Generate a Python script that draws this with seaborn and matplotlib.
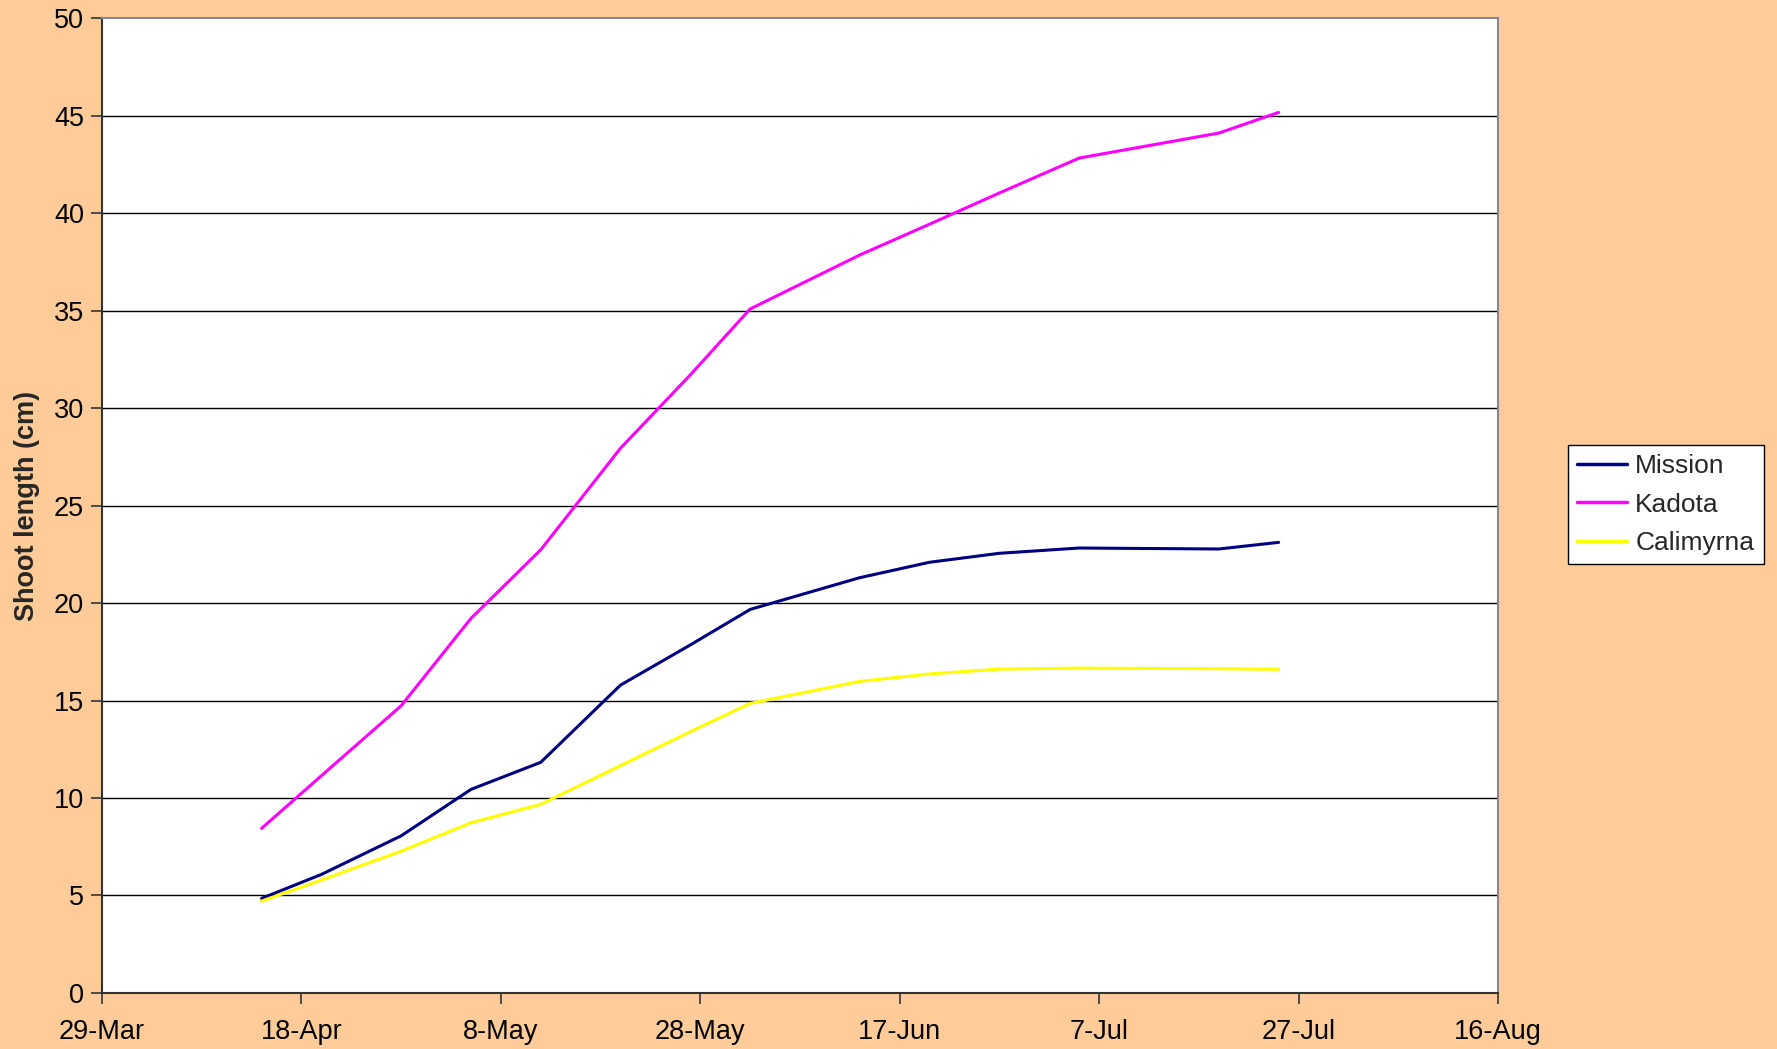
import matplotlib
matplotlib.use("Agg")
import matplotlib.pyplot as plt
import seaborn as sns
import pandas as pd
from matplotlib.lines import Line2D

# ---- data ----
dates = ["2005-04-14", "2005-04-20", "2005-04-28", "2005-05-05", "2005-05-12",
         "2005-05-20", "2005-05-27", "2005-06-02", "2005-06-13", "2005-06-20",
         "2005-06-27", "2005-07-05", "2005-07-19", "2005-07-25"]
mission = [4.85, 6.08, 8.06, 10.44, 11.83, 15.79, 17.85, 19.67, 21.30, 22.09, 22.55, 22.82, 22.77, 23.11]
kadota = [8.44, 11.14, 14.73, 19.21, 22.73, 27.94, 31.7, 35.08, 37.85, 39.43, 41.03, 42.82, 44.10, 45.16]
calimyrna = [4.71, 5.79, 7.27, 8.73, 9.67, 11.66, 13.40, 14.85, 15.98, 16.36, 16.61, 16.66, 16.63, 16.60]
series_names = ["Mission", "Kadota", "Calimyrna"]
colors = {"Mission": "#000080", "Kadota": "#FF00FF", "Calimyrna": "#FFFF00"}
x_tick_dates = ["2005-03-29", "2005-04-18", "2005-05-08", "2005-05-28",
                "2005-06-17", "2005-07-07", "2005-07-27", "2005-08-16"]
y_ticks = [0, 5, 10, 15, 20, 25, 30, 35, 40, 45, 50]

df = pd.DataFrame({
    "date": pd.to_datetime(dates * 3),
    "value": mission + kadota + calimyrna,
    "variety": sum([[n] * len(dates) for n in series_names], []),
})

sns.set_theme(style="white")
plt.rcParams["font.family"] = ["Liberation Sans", "DejaVu Sans"]

bg = "#FFCC99"
fig = plt.figure(figsize=(17.77, 10.49), dpi=100, facecolor=bg)
ax = fig.add_axes([0.0574, 0.0534, 0.843 - 0.0574, 0.9828 - 0.0534])
ax.set_facecolor("white")

sns.lineplot(data=df, x="date", y="value", hue="variety", hue_order=series_names,
             palette=colors, linewidth=2.2, ax=ax, legend=False)

# grid
for yv in y_ticks[1:-1]:
    ax.axhline(yv, color="black", linewidth=1.0, zorder=0)

xt = pd.to_datetime(x_tick_dates)
ax.set_xlim(xt[0], xt[-1])
ax.set_ylim(0, 50)
ax.set_xticks(xt)
ax.set_xticklabels([f"{d.day}-{d.strftime('%b')}" for d in xt], fontsize=19.5)
ax.set_yticks(y_ticks)
ax.set_yticklabels([str(v) for v in y_ticks], fontsize=19.5)
ax.tick_params(axis="both", direction="out", length=8, width=1.2, color="#333333",
               bottom=True, left=True, colors="black")
ax.tick_params(axis="x", pad=11)
ax.tick_params(axis="y", pad=5)

for side in ["left", "bottom"]:
    ax.spines[side].set_color("#333333")
    ax.spines[side].set_linewidth(1.5)
for side in ["top", "right"]:
    ax.spines[side].set_color("#888888")
    ax.spines[side].set_linewidth(1.5)

ax.set_xlabel("")
ax.set_ylabel("Shoot length (cm)", fontsize=19.5, fontweight="bold", labelpad=10)

# legend
handles = [Line2D([0], [0], color=colors[n], linewidth=2.5) for n in series_names]
leg = fig.legend(handles, series_names, loc="upper left",
                 bbox_to_anchor=(0.8824, 0.5758), bbox_transform=fig.transFigure,
                 fontsize=19, frameon=True, fancybox=False, borderpad=0.35,
                 handlelength=1.9, handletextpad=0.3, labelspacing=0.55,
                 borderaxespad=0)
leg.get_frame().set_edgecolor("black")
leg.get_frame().set_linewidth(1.0)
leg.get_frame().set_facecolor("white")
leg.get_frame().set_alpha(1)

fig.savefig("out.png", dpi=100, facecolor=bg)
